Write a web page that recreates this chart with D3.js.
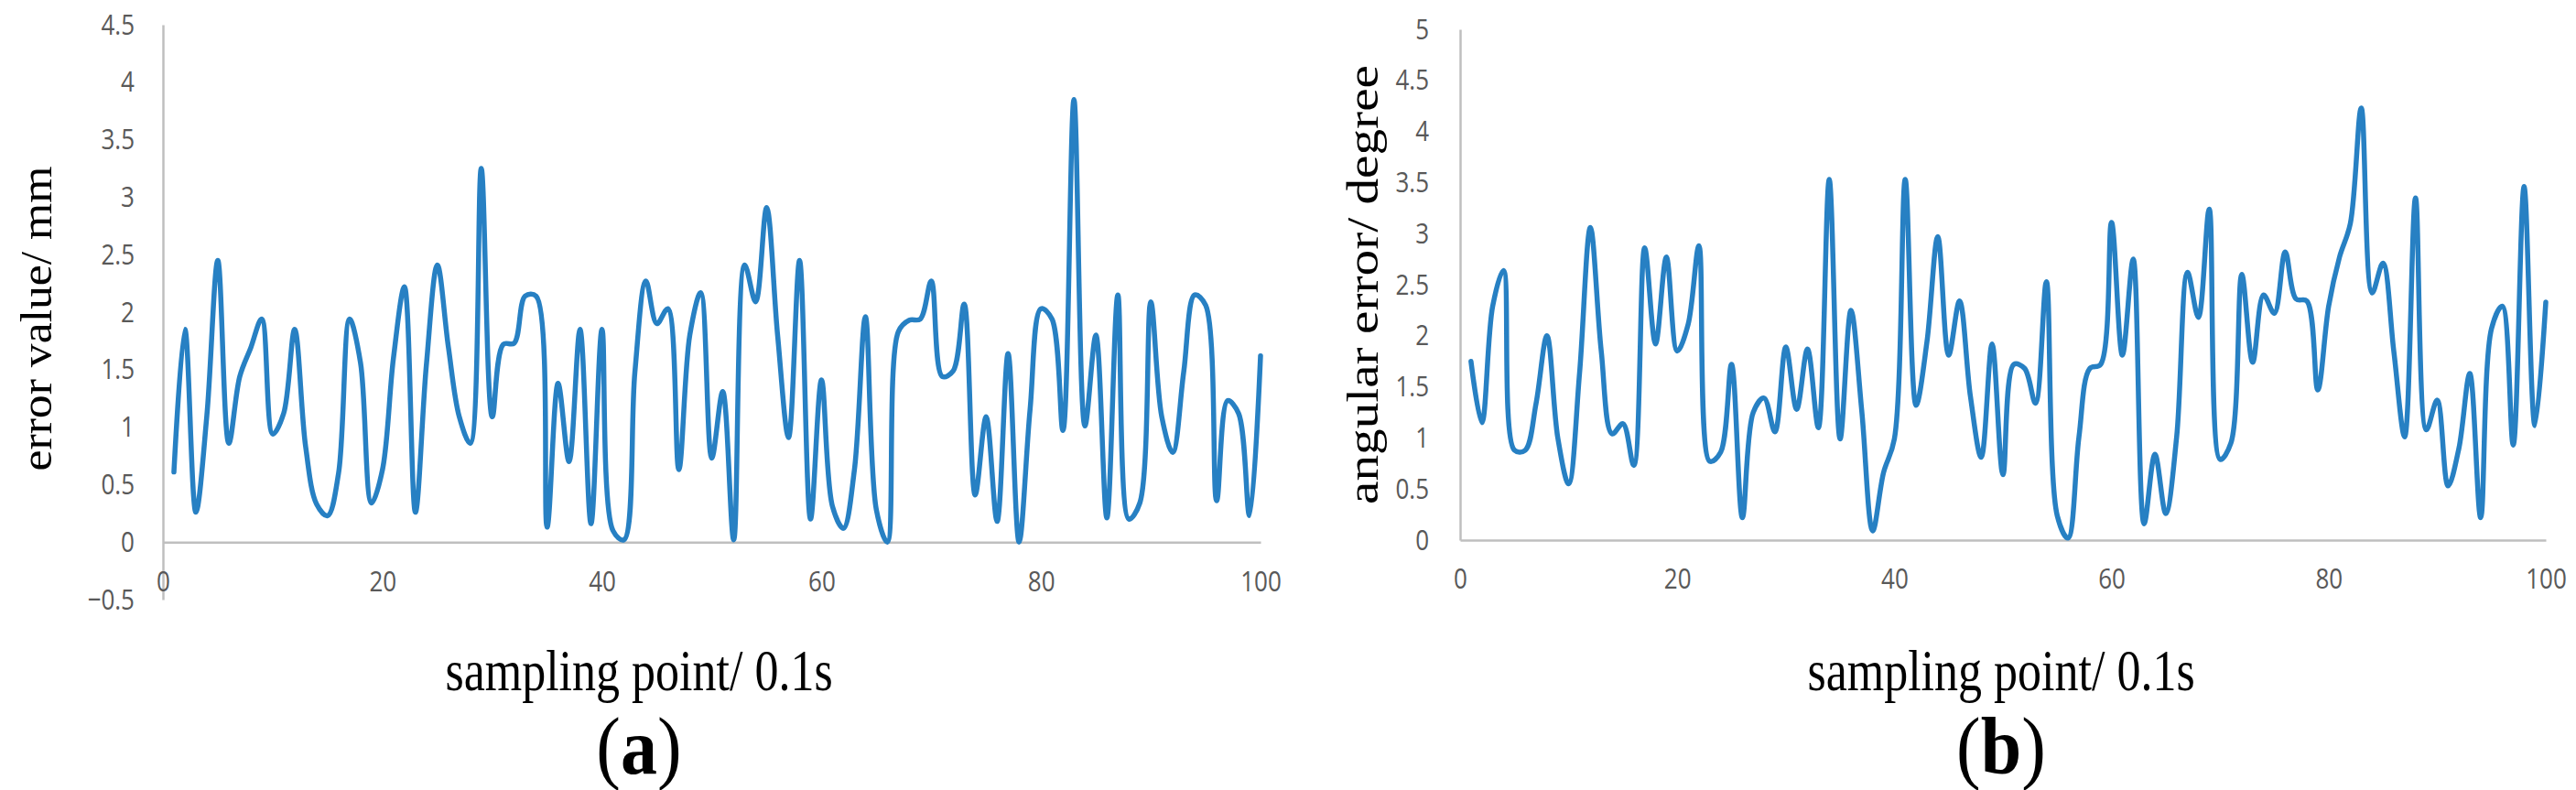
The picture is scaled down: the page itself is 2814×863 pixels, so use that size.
<!DOCTYPE html>
<html><head><meta charset="utf-8">
<script src="https://cdn.jsdelivr.net/npm/d3@7"></script>
<style>body{margin:0;background:#fff}</style>
</head><body><svg id="c" width="2814" height="863" xmlns="http://www.w3.org/2000/svg"></svg>
<script>
// ---------- data ----------
const errorValue = [0.61,1.85,0.26,1.1,2.45,0.86,1.44,1.69,1.94,0.94,
  1.12,1.85,0.83,0.33,0.23,0.6,1.94,1.56,0.34,0.63,
  1.6,2.22,0.26,1.54,2.41,1.70,1.09,0.86,3.25,1.09,
  1.72,1.73,2.14,2.14,0.13,1.38,0.70,1.85,0.16,1.85,
  0.10,0.02,1.48,2.27,1.90,2.03,0.63,1.80,2.17,0.73,
  1.31,0.02,2.41,2.09,2.91,1.80,0.91,2.45,0.20,1.41,
  0.31,0.12,0.63,1.96,0.28,0.0,1.83,1.93,1.94,2.27,
  1.44,1.49,2.07,0.41,1.09,0.18,1.64,0.0,1.15,2.03,
  1.94,0.97,3.85,1.01,1.80,0.21,2.15,0.20,0.34,2.09,
  1.09,0.78,1.48,2.15,2.06,0.36,1.23,1.12,0.23,1.62];
const angularError = [1.75,1.15,2.29,2.64,0.88,0.88,1.34,2.0,1.0,0.55,
  1.63,3.06,1.85,1.04,1.14,0.73,2.86,1.92,2.77,1.85,
  2.11,2.88,0.77,0.86,1.72,0.22,1.25,1.39,1.06,1.89,
  1.28,1.87,1.10,3.53,0.99,2.25,1.26,0.09,0.66,0.99,
  3.53,1.32,1.94,2.97,1.81,2.34,1.41,0.81,1.92,0.64,
  1.72,1.68,1.34,2.53,0.24,0.02,1.01,1.68,1.72,3.11,
  1.81,2.75,0.16,0.84,0.26,1.01,2.62,2.18,3.24,0.79,
  0.95,2.60,1.74,2.40,2.22,2.82,2.36,2.34,1.47,2.29,
  2.77,3.10,4.23,2.42,2.71,1.85,1.01,3.35,1.08,1.37,
  0.53,0.90,1.63,0.22,2.07,2.29,0.93,3.46,1.12,2.33];
const xTicks = [0,20,40,60,80,100];
const yTicksA = [-0.5,0,0.5,1,1.5,2,2.5,3,3.5,4,4.5];
const yTicksB = [0,0.5,1,1.5,2,2.5,3,3.5,4,4.5,5];
const yTitleA = "error value/ mm";
const yTitleB = "angular error/ degree";
const xTitle = "sampling point/ 0.1s";
const panelLabels = ["a","b"];

// ---------- drawing ----------
const svg = d3.select("#c");
const fmt = v => (v < 0 ? "\u2212" + Math.abs(v) : String(v));
const serif = "'Liberation Serif', 'Times New Roman', serif";
const K = 1.22; // vertical stretch of glyphs seen in the reference

function panel(cfg){
  const g = svg.append("g");
  const x = d3.scaleLinear().domain([0,100]).range([cfg.x0, cfg.x1]);
  const y = d3.scaleLinear().domain(cfg.yDomain).range([cfg.yBottom, cfg.yTop]);

  const ya = g.append("g").attr("transform", `translate(${cfg.x0},0)`)
    .call(d3.axisLeft(y).tickValues(cfg.yTicks).tickSize(0).tickPadding(cfg.yPad).tickFormat(fmt));
  const xa = g.append("g").attr("transform", `translate(0,${y(0)})`)
    .call(d3.axisBottom(x).tickValues(xTicks).tickSize(0).tickPadding(cfg.xPad).tickFormat(d3.format("d")));
  [ya, xa].forEach(a => {
    a.select(".domain").attr("stroke", "#bfbfbf").attr("stroke-width", 2.5);
    a.selectAll("text").attr("font-family", "'Open Sans', sans-serif")
      .attr("font-size", 26).attr("fill", "#595959")
      .each(function(){
        const t = d3.select(this);
        const yy = +t.attr("y") || 0;
        t.attr("y", yy / K).attr("transform", `scale(1,${K})`);
      });
  });

  const line = d3.line().x((d,i) => x(i + 1)).y(d => y(d)).curve(d3.curveCatmullRom.alpha(0.5));
  g.append("path").datum(cfg.values).attr("d", line)
    .attr("fill", "none").attr("stroke", "#2780c3").attr("stroke-width", 5.5)
    .attr("stroke-linejoin", "round").attr("stroke-linecap", "round");

  g.append("text").attr("transform", `translate(${cfg.yTitleX},${cfg.yTitleY}) rotate(-90)`)
    .attr("text-anchor", "middle").attr("font-family", serif)
    .attr("font-size", 48).attr("fill", "#000")
    .attr("textLength", cfg.yTitleLen).attr("lengthAdjust", "spacingAndGlyphs")
    .text(cfg.yTitle);
  g.append("text").attr("transform", `translate(${cfg.xTitleX},754) scale(1,${K})`)
    .attr("text-anchor", "middle").attr("font-family", serif)
    .attr("font-size", 52).attr("fill", "#000").text(xTitle);
  const lab = g.append("text").attr("transform", `translate(${cfg.xTitleX},845) scale(1,1.12)`)
    .attr("text-anchor", "middle").attr("font-family", serif)
    .attr("font-size", 80).attr("fill", "#000");
  lab.append("tspan").text("(");
  lab.append("tspan").attr("font-weight", "bold").text(cfg.label);
  lab.append("tspan").text(")");
}

panel({values: errorValue, x0: 178, x1: 1377, yDomain: [-0.5, 4.5], yBottom: 655, yTop: 27,
  yTicks: yTicksA, yPad: 31, xPad: 31, yTitle: yTitleA, yTitleX: 56, yTitleY: 348, yTitleLen: 333,
  xTitleX: 698, label: panelLabels[0]});
panel({values: angularError, x0: 1595, x1: 2781, yDomain: [0, 5], yBottom: 590, yTop: 32,
  yTicks: yTicksB, yPad: 34, xPad: 30, yTitle: yTitleB, yTitleX: 1505, yTitleY: 311, yTitleLen: 480,
  xTitleX: 2186, label: panelLabels[1]});
</script>
</body></html>
